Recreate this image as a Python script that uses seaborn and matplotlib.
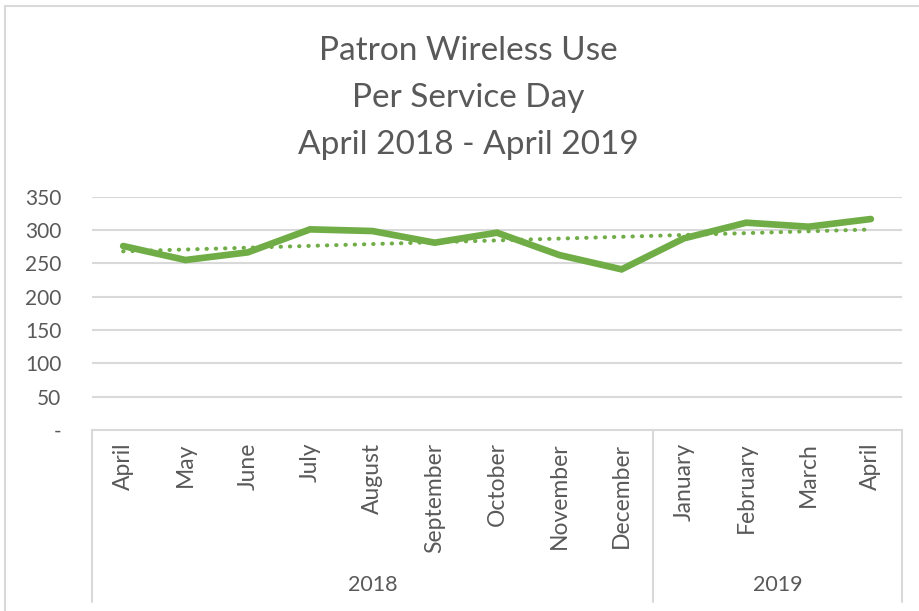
import numpy as np
import pandas as pd
import matplotlib
matplotlib.use("Agg")
import matplotlib.pyplot as plt
from matplotlib.lines import Line2D
import seaborn as sns

months = ["April", "May", "June", "July", "August", "September", "October",
          "November", "December", "January", "February", "March", "April"]
years = ["2018"] * 9 + ["2019"] * 4
values = [276, 255, 266.5, 301, 298.5, 281, 296, 262.5, 241, 287.5, 311, 305, 316.5]
yticks = [0, 50, 100, 150, 200, 250, 300, 350]
ytick_labels = ["-", "50", "100", "150", "200", "250", "300", "350"]
title_lines = ["Patron Wireless Use", "Per Service Day", "April 2018 - April 2019"]

sns.set_theme(style="white")
plt.rcParams["font.family"] = ["Lato", "DejaVu Sans"]

TEXT = "#595959"
GRID = "#D9D9D9"
GREEN = "#70AD47"

W, H = 919, 611
fig = plt.figure(figsize=(W / 100, H / 100), dpi=100)
fig.patch.set_facecolor("white")

x0, x1 = 92, 902
ytop, ybot = 196.7, 430
ax = fig.add_axes([x0 / W, (H - ybot) / H, (x1 - x0) / W, (ybot - ytop) / H])

df = pd.DataFrame({"idx": np.arange(len(months)), "value": values})
sns.lineplot(data=df, x="idx", y="value", ax=ax, color=GREEN, linewidth=4.8,
             solid_joinstyle="miter", solid_capstyle="round", zorder=3)

coef = np.polyfit(df["idx"], df["value"], 1)
trend = np.polyval(coef, df["idx"])
ax.plot(df["idx"], trend, color=GREEN, linewidth=2.9,
        linestyle=(0, (0.1, 2.2)), dash_capstyle="round", zorder=2)

ax.set_xlim(-0.5, len(months) - 0.5)
ax.set_ylim(0, 350)
ax.set_yticks(yticks)
ax.set_yticklabels(ytick_labels, color=TEXT, fontsize=15)
ax.tick_params(axis="y", length=0, pad=22)
ax.set_xticks(np.arange(len(months)))
ax.set_xticklabels(months, rotation=90, color=TEXT, fontsize=16.5, va="top")
ax.tick_params(axis="x", length=0, pad=9)
ax.set_xlabel("")
ax.set_ylabel("")
for s in ax.spines.values():
    s.set_visible(False)
for yv in yticks[1:]:
    ax.axhline(yv, color=GRID, linewidth=1.5, zorder=1)

# category axis box
ah = ybot - ytop
ybottom_axes = -(602 - ybot) / ah
trans = ax.get_xaxis_transform()
ax.plot([-0.5, len(months) - 0.5], [0, 0], color=GRID, linewidth=1.5,
        transform=trans, clip_on=False)
bounds = [-0.5]
for i in range(1, len(years)):
    if years[i] != years[i - 1]:
        bounds.append(i - 0.5)
bounds.append(len(years) - 0.5)
for b in bounds:
    ax.plot([b, b], [0, ybottom_axes], color=GRID, linewidth=1.5,
            transform=trans, clip_on=False)
yyear = -(585 - ybot) / ah
for a, b in zip(bounds[:-1], bounds[1:]):
    ax.text((a + b) / 2, yyear, years[int(a + 0.5)], transform=trans,
            ha="center", va="center", color=TEXT, fontsize=15.5)

# title
fig.text(468 / W, 1 - 98 / H, "\n".join(title_lines), ha="center", va="center",
         color=TEXT, fontsize=24, linespacing=1.72)

# outer chart border
fig.add_artist(Line2D([5 / W, 5 / W], [0, 1 - 6 / H], color=GRID, linewidth=1.5))
fig.add_artist(Line2D([5 / W, 1], [1 - 6 / H, 1 - 6 / H], color=GRID, linewidth=1.5))

fig.savefig("out.png", dpi=100, facecolor="white")
